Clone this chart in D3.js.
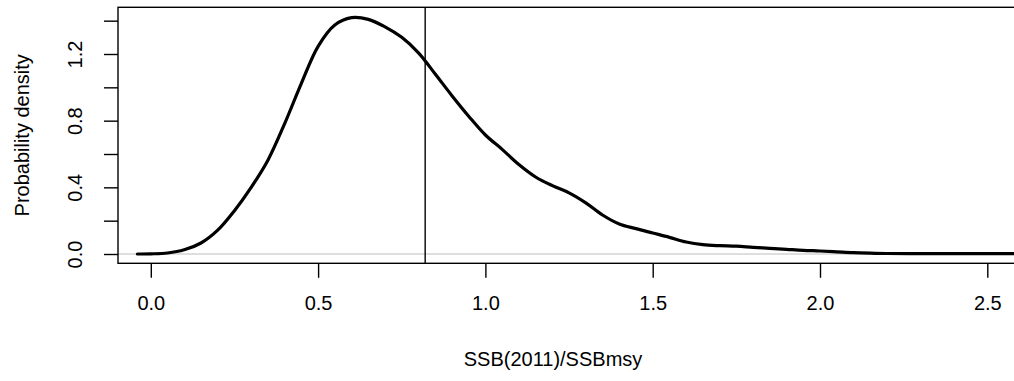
<!DOCTYPE html>
<html>
<head>
<meta charset="utf-8">
<script src="https://cdn.jsdelivr.net/npm/d3@7"></script>
<style>
  html, body { margin: 0; padding: 0; background: #fff; }
  svg { display: block; }
  text { font-family: "Liberation Sans", Arial, Helvetica, sans-serif; fill: #000; }
</style>
</head>
<body>
<svg id="chart" width="1014" height="381"></svg>
<script>
// ---- data ----
const xGrid = [-0.04, 0.0, 0.05, 0.10, 0.15, 0.20, 0.25, 0.30, 0.35, 0.40, 0.45, 0.50, 0.55, 0.60, 0.65,
  0.70, 0.75, 0.80, 0.85, 0.90, 0.95, 1.00, 1.05, 1.10, 1.15, 1.20, 1.25, 1.30, 1.35, 1.40, 1.45,
  1.50, 1.55, 1.60, 1.65, 1.70, 1.75, 1.80, 1.85, 1.90, 1.95, 2.00, 2.05, 2.10, 2.15, 2.20, 2.30,
  2.40, 2.50, 2.60, 2.70];
const density = [0.0, 0.001, 0.006, 0.025, 0.066, 0.143, 0.26, 0.40, 0.563, 0.782, 1.024, 1.246, 1.374, 1.418, 1.408,
  1.363, 1.30, 1.207, 1.08, 0.95, 0.827, 0.714, 0.628, 0.537, 0.462, 0.41, 0.367, 0.307, 0.234, 0.18, 0.152,
  0.126, 0.10, 0.072, 0.056, 0.05, 0.047, 0.04, 0.034, 0.028, 0.022, 0.018, 0.013, 0.008, 0.005, 0.003, 0.002,
  0.002, 0.002, 0.002, 0.002];
const refLine = 0.82;
const xTicks = [0.0, 0.5, 1.0, 1.5, 2.0, 2.5];
const xTickLabels = ["0.0", "0.5", "1.0", "1.5", "2.0", "2.5"];
const yTicks = [0.0, 0.2, 0.4, 0.6, 0.8, 1.0, 1.2, 1.4];
const yTickLabels = ["0.0", "", "0.4", "", "0.8", "", "1.2", ""];
const xLabel = "SSB(2011)/SSBmsy";
const yLabel = "Probability density";

// ---- layout ----
const svg = d3.select("#chart");
const box = { left: 118, top: 7.3, right: 1030, bottom: 263.3 };
const x = d3.scaleLinear().domain([0, 2.5]).range([150.8, 987.3]);
const y = d3.scaleLinear().domain([0, 1.2]).range([254, 54]);
const fs = 20;

// zero reference line (grey)
svg.append("line")
  .attr("x1", box.left).attr("x2", 1014)
  .attr("y1", y(0)).attr("y2", y(0))
  .attr("stroke", "#d3d3d3").attr("stroke-width", 1.4);

// density curve
const pts = xGrid.map((v, i) => [v, density[i]]);
svg.append("path")
  .datum(pts)
  .attr("fill", "none")
  .attr("stroke", "#000")
  .attr("stroke-width", 3.2)
  .attr("stroke-linejoin", "round")
  .attr("stroke-linecap", "round")
  .attr("d", d3.line().x(d => x(d[0])).y(d => y(d[1])).curve(d3.curveCatmullRom.alpha(0.5)));

// vertical reference line
svg.append("line")
  .attr("x1", x(refLine)).attr("x2", x(refLine))
  .attr("y1", box.top).attr("y2", box.bottom)
  .attr("stroke", "#000").attr("stroke-width", 1.4);

// box
svg.append("rect")
  .attr("x", box.left).attr("y", box.top)
  .attr("width", box.right - box.left).attr("height", box.bottom - box.top)
  .attr("fill", "none").attr("stroke", "#000").attr("stroke-width", 1.4);

// x axis
const xAxis = d3.axisBottom(x).tickValues(xTicks).tickSize(14.5).tickPadding(0)
  .tickFormat((d, i) => xTickLabels[i]);
const gx = svg.append("g").attr("transform", `translate(0,${box.bottom})`).call(xAxis);
gx.select(".domain").remove();
gx.selectAll(".tick line").attr("stroke", "#000").attr("stroke-width", 1.4);
gx.selectAll(".tick text").attr("font-size", fs).attr("fill", "#000")
  .attr("font-family", "Liberation Sans, Arial, sans-serif")
  .attr("y", 47).attr("dy", null);

// y axis
const yAxis = d3.axisLeft(y).tickValues(yTicks).tickSize(14).tickPadding(0)
  .tickFormat((d, i) => yTickLabels[i]);
const gy = svg.append("g").attr("transform", `translate(${box.left},0)`).call(yAxis);
gy.select(".domain").remove();
gy.selectAll(".tick line").attr("stroke", "#000").attr("stroke-width", 1.4);
gy.selectAll(".tick text")
  .attr("font-size", fs).attr("fill", "#000")
  .attr("font-family", "Liberation Sans, Arial, sans-serif")
  .attr("text-anchor", "middle")
  .attr("x", null).attr("dy", null)
  .attr("transform", "translate(-36,0) rotate(-90)");

// axis titles
svg.append("text")
  .attr("x", 553).attr("y", 366)
  .attr("text-anchor", "middle").attr("font-size", fs)
  .text(xLabel);
svg.append("text")
  .attr("transform", `translate(29,${(box.top + box.bottom) / 2}) rotate(-90)`)
  .attr("text-anchor", "middle").attr("font-size", fs)
  .text(yLabel);
</script>
</body>
</html>
